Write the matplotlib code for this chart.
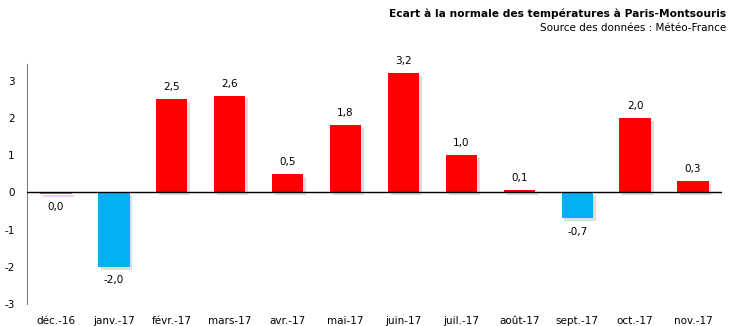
import matplotlib
matplotlib.use("Agg")
import matplotlib.pyplot as plt
import matplotlib.patheffects as pe

# écart mensuel à la normale (°C)
mois = ["déc.-16", "janv.-17", "févr.-17", "mars-17", "avr.-17", "mai-17",
        "juin-17", "juil.-17", "août-17", "sept.-17", "oct.-17", "nov.-17"]
ecarts = [-0.04, -2.0, 2.5, 2.6, 0.5, 1.8, 3.2, 1.0, 0.06, -0.7, 2.0, 0.3]

plt.rcParams["font.family"] = "DejaVu Sans"
plt.rcParams["axes.unicode_minus"] = False

fig = plt.figure(figsize=(7.3, 3.26), dpi=100)
ax = fig.add_axes([27 / 730, 22 / 326, 695 / 730, 240 / 326])

couleurs = ["#FF0000" if v >= 0 else "#00B0F0" for v in ecarts]
x = range(len(mois))
bars = ax.bar(x, ecarts, width=0.54, color=couleurs, zorder=2)
for b in bars:
    b.set_path_effects([pe.SimplePatchShadow(offset=(2, -2), shadow_rgbFace="#a0a0a0", alpha=0.35),
                        pe.Normal()])

for i, v in enumerate(ecarts):
    txt = f"{v:.1f}".replace(".", ",")
    if txt == "-0,0":
        txt = "0,0"
    if v >= 0:
        ax.annotate(txt, (i, v), xytext=(0, 5), textcoords="offset points",
                    ha="center", va="bottom", fontsize=7.5)
    else:
        ax.annotate(txt, (i, v), xytext=(0, -6), textcoords="offset points",
                    ha="center", va="top", fontsize=7.5)

ax.axhline(0, color="black", lw=1, zorder=3)
ax.set_xlim(-0.5, len(mois) - 0.5)
ax.set_ylim(-3, 3.45)
ax.set_yticks([-3, -2, -1, 0, 1, 2, 3])
ax.set_xticks(list(x))
ax.set_xticklabels(mois)
ax.tick_params(axis="both", length=0, labelsize=7.5)
ax.tick_params(axis="x", pad=9)
ax.tick_params(axis="y", pad=9)
for s in ["top", "right", "bottom"]:
    ax.spines[s].set_visible(False)
ax.spines["left"].set_color("#808080")

fig.text(0.995, 0.975, "Ecart à la normale des températures à Paris-Montsouris",
         ha="right", va="top", fontsize=7.7, fontweight="bold")
fig.text(0.995, 0.93, "Source des données : Météo-France",
         ha="right", va="top", fontsize=7.5)

fig.savefig("out.png", dpi=100)
